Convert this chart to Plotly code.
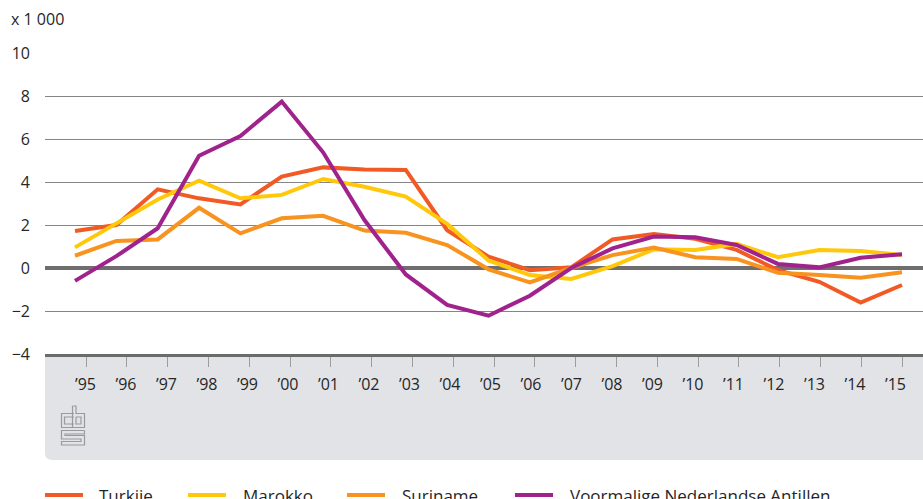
import plotly.graph_objects as go

years = ["’95", "’96", "’97", "’98", "’99", "’00", "’01", "’02", "’03", "’04", "’05",
         "’06", "’07", "’08", "’09", "’10", "’11", "’12", "’13", "’14", "’15"]

turkije = [1.72, 2.0, 3.66, 3.24, 2.96, 4.25, 4.68, 4.58, 4.56, 1.76, 0.53,
           -0.1, 0.03, 1.33, 1.58, 1.36, 0.84, -0.1, -0.64, -1.61, -0.79]
marokko = [0.96, 2.05, 3.19, 4.06, 3.24, 3.4, 4.14, 3.78, 3.32, 2.05, 0.35,
           -0.33, -0.51, 0.09, 0.87, 0.84, 1.12, 0.5, 0.84, 0.79, 0.6]
suriname = [0.57, 1.26, 1.33, 2.8, 1.61, 2.31, 2.43, 1.74, 1.64, 1.07, -0.06,
            -0.67, 0.0, 0.6, 0.95, 0.5, 0.42, -0.22, -0.33, -0.45, -0.2]
antillen = [-0.6, 0.55, 1.85, 5.22, 6.14, 7.74, 5.38, 2.23, -0.3, -1.72, -2.22,
            -1.29, 0.0, 0.91, 1.46, 1.43, 1.07, 0.19, 0.03, 0.48, 0.64]

series = [
    ("Turkije", turkije, "#F15A24"),
    ("Marokko", marokko, "#FFC80A"),
    ("Suriname", suriname, "#F7931E"),
    ("Voormalige Nederlandse Antillen", antillen, "#A0228C"),
]

FONT = "Open Sans"
TXT = "#262626"
W, H = 923, 499
# plot area in page pixels: x 45..923, y 53..354
PL, PT, PB = 45, 53, 354
PW, PH = W - PL, PB - PT
B = H - PB

# page-pixel -> paper helpers for layout decoration
def pxx(x):
    return (x - PL) / PW

def pxy(y):
    return (PB - y) / PH

# x-axis mapping: category index -> page pixel
X0, DX = 75.0, 41.35
xmin = (PL - X0) / DX
xmax = (W - X0) / DX
idx = list(range(len(years)))
label_pos = [(85.5 + 40.5 * i - X0) / DX for i in idx]
tick_pos = [(86.0 + 40.8 * i - X0) / DX for i in idx]

fig = go.Figure()
for name, vals, col in series:
    fig.add_trace(go.Scatter(x=idx, y=vals, mode="lines", name=name,
                             line=dict(color=col, width=4), showlegend=False))

shapes = []
# grey band under the plot
bx0, bx1, by0, by1, r = PL, W, PB, 460, 7
shapes.append(dict(
    type="path", xref="paper", yref="paper", layer="below",
    path=(f"M{pxx(bx0)},{pxy(by0)} L{pxx(bx1)},{pxy(by0)} L{pxx(bx1)},{pxy(by1)} "
          f"L{pxx(bx0 + r)},{pxy(by1)} Q{pxx(bx0)},{pxy(by1)} {pxx(bx0)},{pxy(by1 - r)} Z"),
    fillcolor="#E2E3E6", line=dict(width=0)))

# CBS logo (outline drawing)
logo_paths = [
    [(74, 413.5), (61.5, 413.5), (61.5, 427.5), (74, 427.5)],
    [(74, 417), (64.5, 417), (64.5, 424), (74, 424)],
    [(72.5, 406), (72.5, 427.5), (84.5, 427.5), (84.5, 413.5), (76, 413.5), (76, 406), (72.5, 406)],
    [(76, 417), (81, 417), (81, 424), (76, 424), (76, 417)],
    [(84.5, 430.5), (61.5, 430.5), (61.5, 439), (81, 439), (81, 441.5), (61.5, 441.5),
     (61.5, 445), (84.5, 445), (84.5, 435.5), (65, 435.5), (65, 434), (84.5, 434), (84.5, 430.5)],
]
for pts in logo_paths:
    d = "M" + " L".join(f"{pxx(x)},{pxy(y)}" for x, y in pts)
    shapes.append(dict(type="path", xref="paper", yref="paper", path=d,
                       line=dict(color="#9a9a9a", width=1.2)))

annotations = [dict(text="x 1 000", xref="paper", yref="paper", x=pxx(9), y=pxy(19),
                    xanchor="left", yanchor="middle", showarrow=False,
                    font=dict(family=FONT, size=16, color=TXT))]

# manual legend
leg_y = 495
leg_items = [(45, 97), (188, 241), (347, 400), (515, 568)]
for (lx, tx), (name, vals, col) in zip(leg_items, series):
    shapes.append(dict(type="line", xref="paper", yref="paper",
                       x0=pxx(lx), x1=pxx(lx + 38), y0=pxy(leg_y), y1=pxy(leg_y),
                       line=dict(color=col, width=4)))
    annotations.append(dict(text=name, xref="paper", yref="paper", x=pxx(tx), y=pxy(leg_y),
                            xanchor="left", yanchor="middle", showarrow=False,
                            font=dict(family=FONT, size=17, color=TXT)))

fig.update_layout(
    width=W, height=H, margin=dict(l=PL, r=0, t=PT, b=B),
    plot_bgcolor="white", paper_bgcolor="white",
    font=dict(family=FONT, size=16, color=TXT),
    shapes=shapes, annotations=annotations,
    xaxis=dict(range=[xmin, xmax], tickmode="array", tickvals=label_pos, ticktext=years,
               ticks="", showgrid=False, zeroline=False,
               showline=True, linecolor="#6b6b6b", linewidth=3,
               ticklabelstandoff=14,
               minor=dict(tickmode="array", tickvals=tick_pos, ticks="outside",
                          ticklen=10, tickcolor="#9c9c9c", tickwidth=1, showgrid=False),
               tickfont=dict(family=FONT, size=16, color=TXT), fixedrange=True),
    yaxis=dict(range=[-4, 10], tickmode="array", tickvals=[-4, -2, 0, 2, 4, 6, 8, 10],
               showgrid=True, gridcolor="#858585", gridwidth=1,
               zeroline=True, zerolinecolor="#6e6e6e", zerolinewidth=4,
               ticks="", ticklabelstandoff=14, showline=False,
               tickfont=dict(family=FONT, size=16, color=TXT), fixedrange=True),
)

fig.write_html(
    "out.html",
    config={"displayModeBar": False},
    post_script="document.body.style.margin='0';document.body.style.overflow='hidden';",
)
